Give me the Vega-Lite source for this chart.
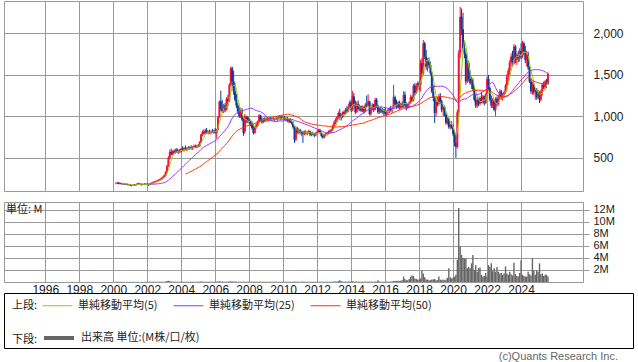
{
"$schema":"https://vega.github.io/schema/vega-lite/v6.json",
"padding":{"left":3,"top":0,"right":0,"bottom":0},
"background":"#ffffff",
"bounds":"flush",
"spacing":11,
"resolve":{"scale":{"color":"independent"},"legend":{"color":"independent"}},
"config":{
 "view":{"stroke":"#999999","strokeWidth":1},
 "axis":{"gridColor":"#999999","gridWidth":1,"gridOpacity":1,"domain":false,"labelFont":"Liberation Sans","labelColor":"#222222","title":null,"labelOverlap":false,"labelBound":false}
},
"datasets":{"px":[
{"d":"2000-03","o":190,"h":205,"l":180,"c":195,"v":0.03},
{"d":"2000-04","o":195,"h":210,"l":185,"c":200,"v":0.04},
{"d":"2000-05","o":200,"h":205,"l":180,"c":185,"v":0.03},
{"d":"2000-06","o":185,"h":200,"l":180,"c":195,"v":0.02},
{"d":"2000-07","o":195,"h":200,"l":178,"c":182,"v":0.03},
{"d":"2000-08","o":182,"h":195,"l":175,"c":190,"v":0.02},
{"d":"2000-09","o":190,"h":195,"l":175,"c":178,"v":0.03},
{"d":"2000-10","o":178,"h":190,"l":170,"c":185,"v":0.02},
{"d":"2000-11","o":185,"h":190,"l":168,"c":172,"v":0.03},
{"d":"2000-12","o":172,"h":185,"l":165,"c":180,"v":0.02},
{"d":"2001-01","o":180,"h":185,"l":160,"c":165,"v":0.03},
{"d":"2001-02","o":165,"h":175,"l":155,"c":170,"v":0.02},
{"d":"2001-03","o":170,"h":180,"l":160,"c":175,"v":0.03},
{"d":"2001-04","o":175,"h":185,"l":165,"c":170,"v":0.02},
{"d":"2001-05","o":170,"h":180,"l":160,"c":178,"v":0.02},
{"d":"2001-06","o":178,"h":195,"l":172,"c":190,"v":0.03},
{"d":"2001-07","o":190,"h":200,"l":180,"c":185,"v":0.02},
{"d":"2001-08","o":185,"h":195,"l":175,"c":180,"v":0.02},
{"d":"2001-09","o":180,"h":190,"l":165,"c":175,"v":0.03},
{"d":"2001-10","o":175,"h":190,"l":170,"c":185,"v":0.02},
{"d":"2001-11","o":185,"h":195,"l":178,"c":180,"v":0.02},
{"d":"2001-12","o":180,"h":190,"l":170,"c":188,"v":0.03},
{"d":"2002-01","o":188,"h":195,"l":175,"c":180,"v":0.03},
{"d":"2002-02","o":180,"h":190,"l":160,"c":175,"v":0.03},
{"d":"2002-03","o":175,"h":195,"l":170,"c":190,"v":0.04},
{"d":"2002-04","o":190,"h":205,"l":185,"c":200,"v":0.04},
{"d":"2002-05","o":200,"h":215,"l":190,"c":205,"v":0.03},
{"d":"2002-06","o":205,"h":220,"l":195,"c":210,"v":0.04},
{"d":"2002-07","o":210,"h":225,"l":200,"c":215,"v":0.04},
{"d":"2002-08","o":215,"h":235,"l":205,"c":225,"v":0.05},
{"d":"2002-09","o":225,"h":240,"l":215,"c":232,"v":0.04},
{"d":"2002-10","o":232,"h":250,"l":225,"c":245,"v":0.05},
{"d":"2002-11","o":245,"h":265,"l":235,"c":255,"v":0.05},
{"d":"2002-12","o":255,"h":275,"l":245,"c":268,"v":0.06},
{"d":"2003-01","o":268,"h":300,"l":260,"c":290,"v":0.06},
{"d":"2003-02","o":290,"h":340,"l":280,"c":330,"v":0.09},
{"d":"2003-03","o":330,"h":420,"l":320,"c":400,"v":0.15},
{"d":"2003-04","o":400,"h":520,"l":390,"c":500,"v":0.22},
{"d":"2003-05","o":500,"h":600,"l":480,"c":570,"v":0.12},
{"d":"2003-06","o":570,"h":610,"l":530,"c":545,"v":0.08},
{"d":"2003-07","o":545,"h":590,"l":530,"c":580,"v":0.06},
{"d":"2003-08","o":580,"h":600,"l":550,"c":560,"v":0.05},
{"d":"2003-09","o":560,"h":610,"l":550,"c":600,"v":0.06},
{"d":"2003-10","o":600,"h":620,"l":560,"c":570,"v":0.05},
{"d":"2003-11","o":570,"h":600,"l":545,"c":590,"v":0.04},
{"d":"2003-12","o":590,"h":610,"l":560,"c":575,"v":0.04},
{"d":"2004-01","o":575,"h":620,"l":560,"c":610,"v":0.05},
{"d":"2004-02","o":610,"h":640,"l":580,"c":590,"v":0.04},
{"d":"2004-03","o":590,"h":630,"l":575,"c":615,"v":0.05},
{"d":"2004-04","o":615,"h":650,"l":590,"c":600,"v":0.04},
{"d":"2004-05","o":600,"h":630,"l":580,"c":620,"v":0.04},
{"d":"2004-06","o":620,"h":640,"l":600,"c":615,"v":0.03},
{"d":"2004-07","o":615,"h":640,"l":595,"c":625,"v":0.04},
{"d":"2004-08","o":625,"h":650,"l":600,"c":610,"v":0.03},
{"d":"2004-09","o":610,"h":640,"l":595,"c":630,"v":0.04},
{"d":"2004-10","o":630,"h":660,"l":615,"c":640,"v":0.04},
{"d":"2004-11","o":640,"h":660,"l":620,"c":625,"v":0.03},
{"d":"2004-12","o":625,"h":655,"l":615,"c":645,"v":0.04},
{"d":"2005-01","o":645,"h":665,"l":625,"c":640,"v":0.04},
{"d":"2005-02","o":640,"h":700,"l":630,"c":690,"v":0.06},
{"d":"2005-03","o":690,"h":790,"l":680,"c":780,"v":0.09},
{"d":"2005-04","o":780,"h":830,"l":760,"c":810,"v":0.07},
{"d":"2005-05","o":810,"h":840,"l":780,"c":795,"v":0.05},
{"d":"2005-06","o":795,"h":850,"l":780,"c":830,"v":0.05},
{"d":"2005-07","o":830,"h":860,"l":790,"c":800,"v":0.04},
{"d":"2005-08","o":800,"h":830,"l":780,"c":815,"v":0.04},
{"d":"2005-09","o":815,"h":840,"l":790,"c":805,"v":0.05},
{"d":"2005-10","o":805,"h":830,"l":780,"c":820,"v":0.04},
{"d":"2005-11","o":820,"h":850,"l":800,"c":810,"v":0.04},
{"d":"2005-12","o":810,"h":840,"l":790,"c":830,"v":0.05},
{"d":"2006-01","o":830,"h":860,"l":790,"c":800,"v":0.05},
{"d":"2006-02","o":800,"h":850,"l":730,"c":840,"v":0.06},
{"d":"2006-03","o":840,"h":1000,"l":830,"c":990,"v":0.1},
{"d":"2006-04","o":990,"h":1190,"l":980,"c":1180,"v":0.12},
{"d":"2006-05","o":1180,"h":1310,"l":1060,"c":1090,"v":0.1},
{"d":"2006-06","o":1090,"h":1200,"l":1040,"c":1060,"v":0.07},
{"d":"2006-07","o":1060,"h":1150,"l":1040,"c":1130,"v":0.06},
{"d":"2006-08","o":1130,"h":1160,"l":1050,"c":1080,"v":0.05},
{"d":"2006-09","o":1080,"h":1230,"l":1070,"c":1210,"v":0.07},
{"d":"2006-10","o":1210,"h":1260,"l":1120,"c":1180,"v":0.06},
{"d":"2006-11","o":1180,"h":1400,"l":1170,"c":1380,"v":0.1},
{"d":"2006-12","o":1380,"h":1600,"l":1360,"c":1580,"v":0.12},
{"d":"2007-01","o":1580,"h":1600,"l":1340,"c":1420,"v":0.1},
{"d":"2007-02","o":1420,"h":1550,"l":1260,"c":1300,"v":0.08},
{"d":"2007-03","o":1300,"h":1400,"l":1180,"c":1200,"v":0.07},
{"d":"2007-04","o":1200,"h":1270,"l":1100,"c":1130,"v":0.06},
{"d":"2007-05","o":1130,"h":1160,"l":1030,"c":1060,"v":0.05},
{"d":"2007-06","o":1060,"h":1110,"l":980,"c":1000,"v":0.05},
{"d":"2007-07","o":1000,"h":1100,"l":980,"c":1060,"v":0.05},
{"d":"2007-08","o":1060,"h":1100,"l":940,"c":960,"v":0.06},
{"d":"2007-09","o":960,"h":980,"l":765,"c":800,"v":0.07},
{"d":"2007-10","o":820,"h":1030,"l":790,"c":1000,"v":0.06},
{"d":"2007-11","o":930,"h":1010,"l":920,"c":990,"v":0.04},
{"d":"2007-12","o":990,"h":1000,"l":920,"c":950,"v":0.04},
{"d":"2008-01","o":950,"h":970,"l":910,"c":930,"v":0.04},
{"d":"2008-02","o":930,"h":960,"l":880,"c":900,"v":0.04},
{"d":"2008-03","o":900,"h":945,"l":840,"c":860,"v":0.05},
{"d":"2008-04","o":860,"h":910,"l":780,"c":800,"v":0.05},
{"d":"2008-05","o":800,"h":880,"l":790,"c":870,"v":0.04},
{"d":"2008-06","o":870,"h":915,"l":850,"c":900,"v":0.04},
{"d":"2008-07","o":900,"h":950,"l":880,"c":940,"v":0.04},
{"d":"2008-08","o":940,"h":1030,"l":930,"c":1010,"v":0.05},
{"d":"2008-09","o":1010,"h":1020,"l":940,"c":960,"v":0.04},
{"d":"2008-10","o":960,"h":990,"l":910,"c":930,"v":0.05},
{"d":"2008-11","o":930,"h":980,"l":920,"c":970,"v":0.04},
{"d":"2008-12","o":970,"h":990,"l":930,"c":950,"v":0.03},
{"d":"2009-01","o":950,"h":985,"l":930,"c":965,"v":0.03},
{"d":"2009-02","o":965,"h":990,"l":940,"c":950,"v":0.03},
{"d":"2009-03","o":950,"h":985,"l":935,"c":975,"v":0.04},
{"d":"2009-04","o":975,"h":990,"l":945,"c":960,"v":0.03},
{"d":"2009-05","o":960,"h":985,"l":940,"c":970,"v":0.03},
{"d":"2009-06","o":970,"h":995,"l":950,"c":955,"v":0.03},
{"d":"2009-07","o":955,"h":980,"l":940,"c":975,"v":0.03},
{"d":"2009-08","o":975,"h":1000,"l":955,"c":965,"v":0.03},
{"d":"2009-09","o":965,"h":990,"l":945,"c":980,"v":0.03},
{"d":"2009-10","o":980,"h":1010,"l":960,"c":970,"v":0.03},
{"d":"2009-11","o":970,"h":1000,"l":950,"c":995,"v":0.03},
{"d":"2009-12","o":995,"h":1010,"l":960,"c":975,"v":0.03},
{"d":"2010-01","o":975,"h":1000,"l":950,"c":985,"v":0.03},
{"d":"2010-02","o":985,"h":1005,"l":955,"c":965,"v":0.03},
{"d":"2010-03","o":965,"h":990,"l":940,"c":980,"v":0.03},
{"d":"2010-04","o":980,"h":995,"l":930,"c":945,"v":0.03},
{"d":"2010-05","o":945,"h":975,"l":920,"c":960,"v":0.03},
{"d":"2010-06","o":960,"h":980,"l":915,"c":930,"v":0.03},
{"d":"2010-07","o":930,"h":950,"l":900,"c":920,"v":0.03},
{"d":"2010-08","o":920,"h":945,"l":850,"c":870,"v":0.04},
{"d":"2010-09","o":870,"h":890,"l":680,"c":720,"v":0.08},
{"d":"2010-10","o":720,"h":880,"l":700,"c":860,"v":0.05},
{"d":"2010-11","o":860,"h":870,"l":790,"c":810,"v":0.04},
{"d":"2010-12","o":810,"h":850,"l":790,"c":830,"v":0.03},
{"d":"2011-01","o":830,"h":850,"l":780,"c":800,"v":0.03},
{"d":"2011-02","o":800,"h":830,"l":760,"c":815,"v":0.03},
{"d":"2011-03","o":815,"h":825,"l":680,"c":790,"v":0.08},
{"d":"2011-04","o":790,"h":830,"l":770,"c":815,"v":0.04},
{"d":"2011-05","o":815,"h":830,"l":780,"c":795,"v":0.03},
{"d":"2011-06","o":795,"h":820,"l":770,"c":805,"v":0.03},
{"d":"2011-07","o":805,"h":835,"l":790,"c":820,"v":0.03},
{"d":"2011-08","o":820,"h":830,"l":760,"c":780,"v":0.04},
{"d":"2011-09","o":780,"h":810,"l":760,"c":795,"v":0.03},
{"d":"2011-10","o":795,"h":815,"l":770,"c":785,"v":0.03},
{"d":"2011-11","o":785,"h":800,"l":750,"c":770,"v":0.03},
{"d":"2011-12","o":770,"h":810,"l":760,"c":800,"v":0.03},
{"d":"2012-01","o":800,"h":830,"l":780,"c":815,"v":0.03},
{"d":"2012-02","o":815,"h":850,"l":800,"c":835,"v":0.03},
{"d":"2012-03","o":835,"h":850,"l":790,"c":800,"v":0.03},
{"d":"2012-04","o":800,"h":815,"l":750,"c":765,"v":0.04},
{"d":"2012-05","o":765,"h":780,"l":730,"c":745,"v":0.04},
{"d":"2012-06","o":745,"h":790,"l":735,"c":780,"v":0.03},
{"d":"2012-07","o":780,"h":800,"l":760,"c":790,"v":0.03},
{"d":"2012-08","o":790,"h":815,"l":770,"c":800,"v":0.03},
{"d":"2012-09","o":800,"h":830,"l":785,"c":815,"v":0.03},
{"d":"2012-10","o":815,"h":840,"l":795,"c":805,"v":0.03},
{"d":"2012-11","o":805,"h":850,"l":800,"c":840,"v":0.04},
{"d":"2012-12","o":840,"h":900,"l":830,"c":890,"v":0.06},
{"d":"2013-01","o":890,"h":950,"l":870,"c":930,"v":0.08},
{"d":"2013-02","o":930,"h":980,"l":900,"c":960,"v":0.08},
{"d":"2013-03","o":960,"h":1000,"l":930,"c":990,"v":0.1},
{"d":"2013-04","o":990,"h":1060,"l":970,"c":1040,"v":0.15},
{"d":"2013-05","o":1040,"h":1090,"l":960,"c":1000,"v":0.3},
{"d":"2013-06","o":1000,"h":1030,"l":950,"c":990,"v":0.12},
{"d":"2013-07","o":990,"h":1060,"l":980,"c":1050,"v":0.08},
{"d":"2013-08","o":1050,"h":1070,"l":1010,"c":1030,"v":0.06},
{"d":"2013-09","o":1030,"h":1100,"l":1020,"c":1080,"v":0.08},
{"d":"2013-10","o":1080,"h":1120,"l":1040,"c":1060,"v":0.06},
{"d":"2013-11","o":1060,"h":1150,"l":1050,"c":1120,"v":0.08},
{"d":"2013-12","o":1120,"h":1190,"l":1100,"c":1170,"v":0.08},
{"d":"2014-01","o":1170,"h":1200,"l":1050,"c":1080,"v":0.06},
{"d":"2014-02","o":1080,"h":1306,"l":1060,"c":1240,"v":0.12},
{"d":"2014-03","o":1240,"h":1280,"l":1120,"c":1140,"v":0.08},
{"d":"2014-04","o":1140,"h":1190,"l":1030,"c":1050,"v":0.06},
{"d":"2014-05","o":1050,"h":1180,"l":1040,"c":1150,"v":0.07},
{"d":"2014-06","o":1150,"h":1190,"l":1070,"c":1090,"v":0.05},
{"d":"2014-07","o":1090,"h":1140,"l":1060,"c":1120,"v":0.05},
{"d":"2014-08","o":1120,"h":1130,"l":1050,"c":1070,"v":0.05},
{"d":"2014-09","o":1070,"h":1130,"l":1050,"c":1110,"v":0.05},
{"d":"2014-10","o":1110,"h":1120,"l":1030,"c":1060,"v":0.05},
{"d":"2014-11","o":1060,"h":1160,"l":1050,"c":1140,"v":0.06},
{"d":"2014-12","o":1140,"h":1250,"l":1110,"c":1130,"v":0.06},
{"d":"2015-01","o":1130,"h":1266,"l":1120,"c":1180,"v":0.06},
{"d":"2015-02","o":1180,"h":1190,"l":1010,"c":1030,"v":0.06},
{"d":"2015-03","o":1030,"h":1110,"l":1010,"c":1090,"v":0.05},
{"d":"2015-04","o":1090,"h":1160,"l":1070,"c":1140,"v":0.06},
{"d":"2015-05","o":1140,"h":1150,"l":1050,"c":1080,"v":0.05},
{"d":"2015-06","o":1080,"h":1225,"l":1070,"c":1200,"v":0.08},
{"d":"2015-07","o":1200,"h":1220,"l":1100,"c":1120,"v":0.06},
{"d":"2015-08","o":1120,"h":1140,"l":1030,"c":1050,"v":0.3},
{"d":"2015-09","o":1050,"h":1110,"l":1030,"c":1090,"v":0.08},
{"d":"2015-10","o":1090,"h":1120,"l":1040,"c":1070,"v":0.06},
{"d":"2015-11","o":1070,"h":1100,"l":1030,"c":1050,"v":0.05},
{"d":"2015-12","o":1050,"h":1090,"l":1010,"c":1080,"v":0.05},
{"d":"2016-01","o":1080,"h":1100,"l":1010,"c":1030,"v":0.06},
{"d":"2016-02","o":1030,"h":1070,"l":1000,"c":1060,"v":0.06},
{"d":"2016-03","o":1060,"h":1090,"l":1030,"c":1050,"v":0.05},
{"d":"2016-04","o":1050,"h":1110,"l":1040,"c":1090,"v":0.06},
{"d":"2016-05","o":1090,"h":1130,"l":1050,"c":1070,"v":0.08},
{"d":"2016-06","o":1070,"h":1120,"l":1040,"c":1100,"v":0.1},
{"d":"2016-07","o":1100,"h":1380,"l":1090,"c":1230,"v":0.2},
{"d":"2016-08","o":1230,"h":1250,"l":1120,"c":1150,"v":0.15},
{"d":"2016-09","o":1150,"h":1200,"l":1090,"c":1110,"v":0.2},
{"d":"2016-10","o":1110,"h":1180,"l":1100,"c":1170,"v":0.2},
{"d":"2016-11","o":1170,"h":1190,"l":1080,"c":1100,"v":0.15},
{"d":"2016-12","o":1100,"h":1160,"l":1090,"c":1150,"v":0.2},
{"d":"2017-01","o":1150,"h":1180,"l":1100,"c":1120,"v":0.3},
{"d":"2017-02","o":1120,"h":1300,"l":1110,"c":1260,"v":0.9},
{"d":"2017-03","o":1260,"h":1300,"l":1120,"c":1140,"v":0.5},
{"d":"2017-04","o":1140,"h":1170,"l":1070,"c":1100,"v":0.3},
{"d":"2017-05","o":1100,"h":1160,"l":1090,"c":1150,"v":0.3},
{"d":"2017-06","o":1150,"h":1180,"l":1120,"c":1170,"v":0.5},
{"d":"2017-07","o":1170,"h":1260,"l":1150,"c":1230,"v":0.9},
{"d":"2017-08","o":1230,"h":1250,"l":1170,"c":1190,"v":1.1},
{"d":"2017-09","o":1190,"h":1390,"l":1180,"c":1370,"v":1.0},
{"d":"2017-10","o":1370,"h":1400,"l":1250,"c":1280,"v":0.6},
{"d":"2017-11","o":1280,"h":1400,"l":1270,"c":1360,"v":0.5},
{"d":"2017-12","o":1360,"h":1420,"l":1300,"c":1400,"v":0.4},
{"d":"2018-01","o":1400,"h":1420,"l":1320,"c":1380,"v":0.4},
{"d":"2018-02","o":1380,"h":1680,"l":1300,"c":1640,"v":0.6},
{"d":"2018-03","o":1640,"h":1700,"l":1460,"c":1520,"v":1.9},
{"d":"2018-04","o":1520,"h":1920,"l":1500,"c":1880,"v":1.4},
{"d":"2018-05","o":1880,"h":1900,"l":1690,"c":1720,"v":0.8},
{"d":"2018-06","o":1720,"h":1800,"l":1560,"c":1600,"v":0.4},
{"d":"2018-07","o":1600,"h":1700,"l":1540,"c":1660,"v":0.4},
{"d":"2018-08","o":1660,"h":1710,"l":1580,"c":1620,"v":0.3},
{"d":"2018-09","o":1620,"h":1660,"l":1500,"c":1520,"v":0.3},
{"d":"2018-10","o":1520,"h":1540,"l":1280,"c":1300,"v":0.4},
{"d":"2018-11","o":1300,"h":1380,"l":1180,"c":1220,"v":0.4},
{"d":"2018-12","o":1220,"h":1240,"l":920,"c":1040,"v":0.5},
{"d":"2019-01","o":1040,"h":1200,"l":1000,"c":1170,"v":0.3},
{"d":"2019-02","o":1170,"h":1230,"l":1120,"c":1150,"v":0.3},
{"d":"2019-03","o":1150,"h":1270,"l":1130,"c":1240,"v":0.9},
{"d":"2019-04","o":1240,"h":1280,"l":1150,"c":1180,"v":0.4},
{"d":"2019-05","o":1180,"h":1200,"l":1050,"c":1080,"v":0.3},
{"d":"2019-06","o":1080,"h":1130,"l":1000,"c":1110,"v":0.4},
{"d":"2019-07","o":1110,"h":1130,"l":1000,"c":1020,"v":0.3},
{"d":"2019-08","o":1020,"h":1040,"l":900,"c":920,"v":0.4},
{"d":"2019-09","o":920,"h":990,"l":900,"c":970,"v":0.7},
{"d":"2019-10","o":970,"h":980,"l":850,"c":870,"v":2.3},
{"d":"2019-11","o":870,"h":910,"l":840,"c":900,"v":0.8},
{"d":"2019-12","o":900,"h":940,"l":850,"c":860,"v":0.6},
{"d":"2020-01","o":860,"h":900,"l":760,"c":790,"v":0.7},
{"d":"2020-02","o":790,"h":830,"l":640,"c":680,"v":0.9},
{"d":"2020-03","o":680,"h":790,"l":500,"c":630,"v":1.2},
{"d":"2020-04","o":630,"h":1080,"l":610,"c":1050,"v":3.7},
{"d":"2020-05","o":1050,"h":1800,"l":1000,"c":1760,"v":12.3},
{"d":"2020-06","o":1760,"h":2320,"l":1700,"c":2200,"v":5.9},
{"d":"2020-07","o":2200,"h":2300,"l":1980,"c":2050,"v":4.5},
{"d":"2020-08","o":2050,"h":2250,"l":1780,"c":1820,"v":4.0},
{"d":"2020-09","o":1820,"h":1900,"l":1700,"c":1750,"v":3.9},
{"d":"2020-10","o":1750,"h":1780,"l":1380,"c":1420,"v":3.9},
{"d":"2020-11","o":1420,"h":1680,"l":1400,"c":1640,"v":2.3},
{"d":"2020-12","o":1640,"h":1670,"l":1420,"c":1450,"v":2.5},
{"d":"2021-01","o":1450,"h":1550,"l":1380,"c":1400,"v":2.3},
{"d":"2021-02","o":1400,"h":1480,"l":1330,"c":1440,"v":3.1},
{"d":"2021-03","o":1440,"h":1460,"l":1300,"c":1330,"v":4.5},
{"d":"2021-04","o":1330,"h":1350,"l":1180,"c":1200,"v":2.0},
{"d":"2021-05","o":1200,"h":1270,"l":1100,"c":1130,"v":2.8},
{"d":"2021-06","o":1130,"h":1230,"l":1100,"c":1200,"v":1.7},
{"d":"2021-07","o":1200,"h":1220,"l":1120,"c":1150,"v":2.3},
{"d":"2021-08","o":1150,"h":1240,"l":1130,"c":1220,"v":2.4},
{"d":"2021-09","o":1220,"h":1300,"l":1160,"c":1180,"v":1.2},
{"d":"2021-10","o":1180,"h":1260,"l":1150,"c":1240,"v":0.9},
{"d":"2021-11","o":1240,"h":1250,"l":1130,"c":1160,"v":1.0},
{"d":"2021-12","o":1160,"h":1280,"l":1150,"c":1260,"v":1.5},
{"d":"2022-01","o":1260,"h":1480,"l":1240,"c":1450,"v":0.9},
{"d":"2022-02","o":1450,"h":1500,"l":1320,"c":1340,"v":2.8},
{"d":"2022-03","o":1340,"h":1360,"l":1180,"c":1200,"v":2.5},
{"d":"2022-04","o":1200,"h":1250,"l":1100,"c":1130,"v":3.1},
{"d":"2022-05","o":1130,"h":1220,"l":1100,"c":1190,"v":1.8},
{"d":"2022-06","o":1190,"h":1200,"l":1060,"c":1080,"v":2.3},
{"d":"2022-07","o":1080,"h":1230,"l":1005,"c":1210,"v":1.7},
{"d":"2022-08","o":1210,"h":1240,"l":1120,"c":1150,"v":2.5},
{"d":"2022-09","o":1150,"h":1260,"l":1130,"c":1230,"v":1.7},
{"d":"2022-10","o":1230,"h":1330,"l":1200,"c":1300,"v":1.4},
{"d":"2022-11","o":1300,"h":1320,"l":1200,"c":1230,"v":1.5},
{"d":"2022-12","o":1230,"h":1280,"l":1190,"c":1260,"v":1.2},
{"d":"2023-01","o":1260,"h":1310,"l":1220,"c":1290,"v":1.4},
{"d":"2023-02","o":1290,"h":1390,"l":1270,"c":1370,"v":2.6},
{"d":"2023-03","o":1370,"h":1510,"l":1300,"c":1480,"v":1.4},
{"d":"2023-04","o":1480,"h":1580,"l":1420,"c":1550,"v":1.2},
{"d":"2023-05","o":1550,"h":1680,"l":1500,"c":1650,"v":1.7},
{"d":"2023-06","o":1650,"h":1760,"l":1600,"c":1720,"v":1.3},
{"d":"2023-07","o":1720,"h":1790,"l":1600,"c":1640,"v":1.1},
{"d":"2023-08","o":1640,"h":1870,"l":1620,"c":1840,"v":3.2},
{"d":"2023-09","o":1840,"h":1860,"l":1640,"c":1680,"v":1.3},
{"d":"2023-10","o":1680,"h":1760,"l":1620,"c":1740,"v":1.0},
{"d":"2023-11","o":1740,"h":1790,"l":1650,"c":1700,"v":0.9},
{"d":"2023-12","o":1700,"h":1820,"l":1660,"c":1790,"v":1.5},
{"d":"2024-01","o":1790,"h":1880,"l":1690,"c":1720,"v":3.6},
{"d":"2024-02","o":1720,"h":1910,"l":1700,"c":1880,"v":1.2},
{"d":"2024-03","o":1880,"h":1900,"l":1740,"c":1780,"v":1.0},
{"d":"2024-04","o":1780,"h":1850,"l":1640,"c":1680,"v":0.9},
{"d":"2024-05","o":1680,"h":1790,"l":1600,"c":1750,"v":0.9},
{"d":"2024-06","o":1750,"h":1780,"l":1560,"c":1590,"v":1.7},
{"d":"2024-07","o":1590,"h":1600,"l":1400,"c":1420,"v":1.3},
{"d":"2024-08","o":1420,"h":1460,"l":1270,"c":1300,"v":1.1},
{"d":"2024-09","o":1300,"h":1420,"l":1260,"c":1380,"v":3.9},
{"d":"2024-10","o":1380,"h":1400,"l":1260,"c":1290,"v":1.9},
{"d":"2024-11","o":1290,"h":1340,"l":1200,"c":1320,"v":1.2},
{"d":"2024-12","o":1320,"h":1340,"l":1200,"c":1230,"v":1.9},
{"d":"2025-01","o":1230,"h":1320,"l":1210,"c":1290,"v":1.7},
{"d":"2025-02","o":1290,"h":1300,"l":1160,"c":1200,"v":3.1},
{"d":"2025-03","o":1200,"h":1320,"l":1180,"c":1300,"v":1.3},
{"d":"2025-04","o":1300,"h":1400,"l":1250,"c":1380,"v":1.4},
{"d":"2025-05","o":1380,"h":1420,"l":1330,"c":1350,"v":1.0},
{"d":"2025-06","o":1350,"h":1440,"l":1320,"c":1420,"v":1.2},
{"d":"2025-07","o":1420,"h":1450,"l":1340,"c":1390,"v":1.2},
{"d":"2025-08","o":1390,"h":1530,"l":1380,"c":1510,"v":0.9}
]},
"vconcat":[
 {
  "width":579,"height":190,
  "data":{"name":"px"},
  "encoding":{
   "x":{"field":"d","type":"temporal",
    "scale":{"domain":[{"year":1993,"month":7,"date":28},{"year":2027,"month":8,"date":24}]},
    "axis":{"values":[{"year":1996},{"year":1998},{"year":2000},{"year":2002},{"year":2004},{"year":2006},{"year":2008},{"year":2010},{"year":2012},{"year":2014},{"year":2016},{"year":2018},{"year":2020},{"year":2022},{"year":2024}],"labels":false,"ticks":false,"domain":false,"grid":true,"title":null}}
  },
  "layer":[
   {"mark":{"type":"rule","strokeWidth":1},
    "encoding":{
     "y":{"field":"l","type":"quantitative","scale":{"domain":[100,2390],"nice":false,"zero":false},
      "axis":{"orient":"right","values":[500,1000,1500,2000],"labelExpr":"format(datum.value, ',')","ticks":false,"labelPadding":10,"grid":true,"title":null,"labelFontSize":12}},
     "y2":{"field":"h"},
     "color":{"condition":{"test":"datum.c >= datum.o","value":"#f0143c"},"value":"#0a3c96"}}},
   {"mark":{"type":"rule","strokeWidth":2},
    "encoding":{
     "y":{"field":"o","type":"quantitative"},
     "y2":{"field":"c"},
     "color":{"condition":{"test":"datum.c >= datum.o","value":"#f0143c"},"value":"#0a3c96"}}},
   {"transform":[
     {"window":[{"op":"mean","field":"c","as":"単純移動平均(5)"}],"frame":[-4,0],"sort":[{"field":"d"}]},
     {"window":[{"op":"mean","field":"c","as":"単純移動平均(25)"}],"frame":[-24,0],"sort":[{"field":"d"}]},
     {"window":[{"op":"mean","field":"c","as":"単純移動平均(50)"}],"frame":[-49,0],"sort":[{"field":"d"}]},
     {"window":[{"op":"row_number","as":"i"}],"sort":[{"field":"d"}]},
     {"fold":["単純移動平均(5)","単純移動平均(25)","単純移動平均(50)"],"as":["k","ma"]},
     {"filter":"(datum.k == '単純移動平均(5)' && datum.i >= 5) || (datum.k == '単純移動平均(25)' && datum.i >= 25) || (datum.k == '単純移動平均(50)' && datum.i >= 50)"}
    ],
    "mark":{"type":"line","strokeWidth":1},
    "encoding":{
     "y":{"field":"ma","type":"quantitative"},
     "color":{"field":"k","type":"nominal",
      "scale":{"domain":["単純移動平均(5)","単純移動平均(25)","単純移動平均(50)"],"range":["#99cc00","#9933ff","#ff3300"]},
      "legend":{"orient":"none","legendX":8,"legendY":289,"direction":"horizontal","title":"上段:","titleOrient":"left","titleAnchor":"middle","titleBaseline":"top","titleFont":"Noto Sans CJK JP","titleFontSize":11,"titleFontWeight":"normal","titleColor":"#222222","titlePadding":4,"symbolType":"stroke","symbolSize":900,"symbolStrokeWidth":1,"labelFont":"Noto Sans CJK JP","labelFontSize":11,"labelColor":"#222222","labelOffset":5,"columnPadding":13,"padding":0}}}}
  ]
 },
 {
  "width":579,"height":80,
  "title":{"text":"単位: M","anchor":"start","frame":"group","offset":-13,"dx":2,"fontSize":11,"font":"Noto Sans CJK JP","fontWeight":"normal","color":"#222222"},
  "data":{"name":"px"},
  "mark":{"type":"rule","strokeWidth":1.4},
  "encoding":{
   "x":{"field":"d","type":"temporal",
    "scale":{"domain":[{"year":1993,"month":7,"date":28},{"year":2027,"month":8,"date":24}]},
    "axis":{"values":[{"year":1996},{"year":1998},{"year":2000},{"year":2002},{"year":2004},{"year":2006},{"year":2008},{"year":2010},{"year":2012},{"year":2014},{"year":2016},{"year":2018},{"year":2020},{"year":2022},{"year":2024}],"format":"%Y","labelFontSize":12,"ticks":false,"labelPadding":2,"grid":true,"domain":false,"title":null,"labelFlush":false}},
   "y":{"field":"v","type":"quantitative","scale":{"domain":[0,13.3],"nice":false},
    "axis":{"orient":"right","values":[2,4,6,8,10,12],"labelExpr":"datum.value + 'M'","ticks":true,"tickSize":6,"tickColor":"#999999","labelPadding":4,"grid":true,"title":null,"labelFontSize":11}},
   "y2":{"datum":0},
   "color":{"datum":"出来高 単位:(M株/口/枚)","type":"nominal","scale":{"range":["#666666"]},
    "legend":{"orient":"none","legendX":8,"legendY":119,"direction":"horizontal","title":"下段:","titleOrient":"left","titleAnchor":"middle","titleBaseline":"top","titleFont":"Noto Sans CJK JP","titleFontSize":11,"titleFontWeight":"normal","titleColor":"#222222","titlePadding":4,"symbolType":"stroke","symbolSize":900,"symbolStrokeWidth":4,"labelFont":"Noto Sans CJK JP","labelFontSize":11,"labelColor":"#222222","labelOffset":5,"padding":0}}}
 },
 {
  "width":629,"height":55,
  "view":{"stroke":"#000000","strokeWidth":1},
  "data":{"values":[{"t":""}]},
  "mark":{"type":"text"},
  "encoding":{"text":{"field":"t"}},
  "title":{"text":"(c)Quants Research Inc.","orient":"bottom","anchor":"end","dx":-15,"offset":3,"fontSize":11,"font":"Liberation Sans","fontWeight":"normal","color":"#666666"}
 }
]
}
